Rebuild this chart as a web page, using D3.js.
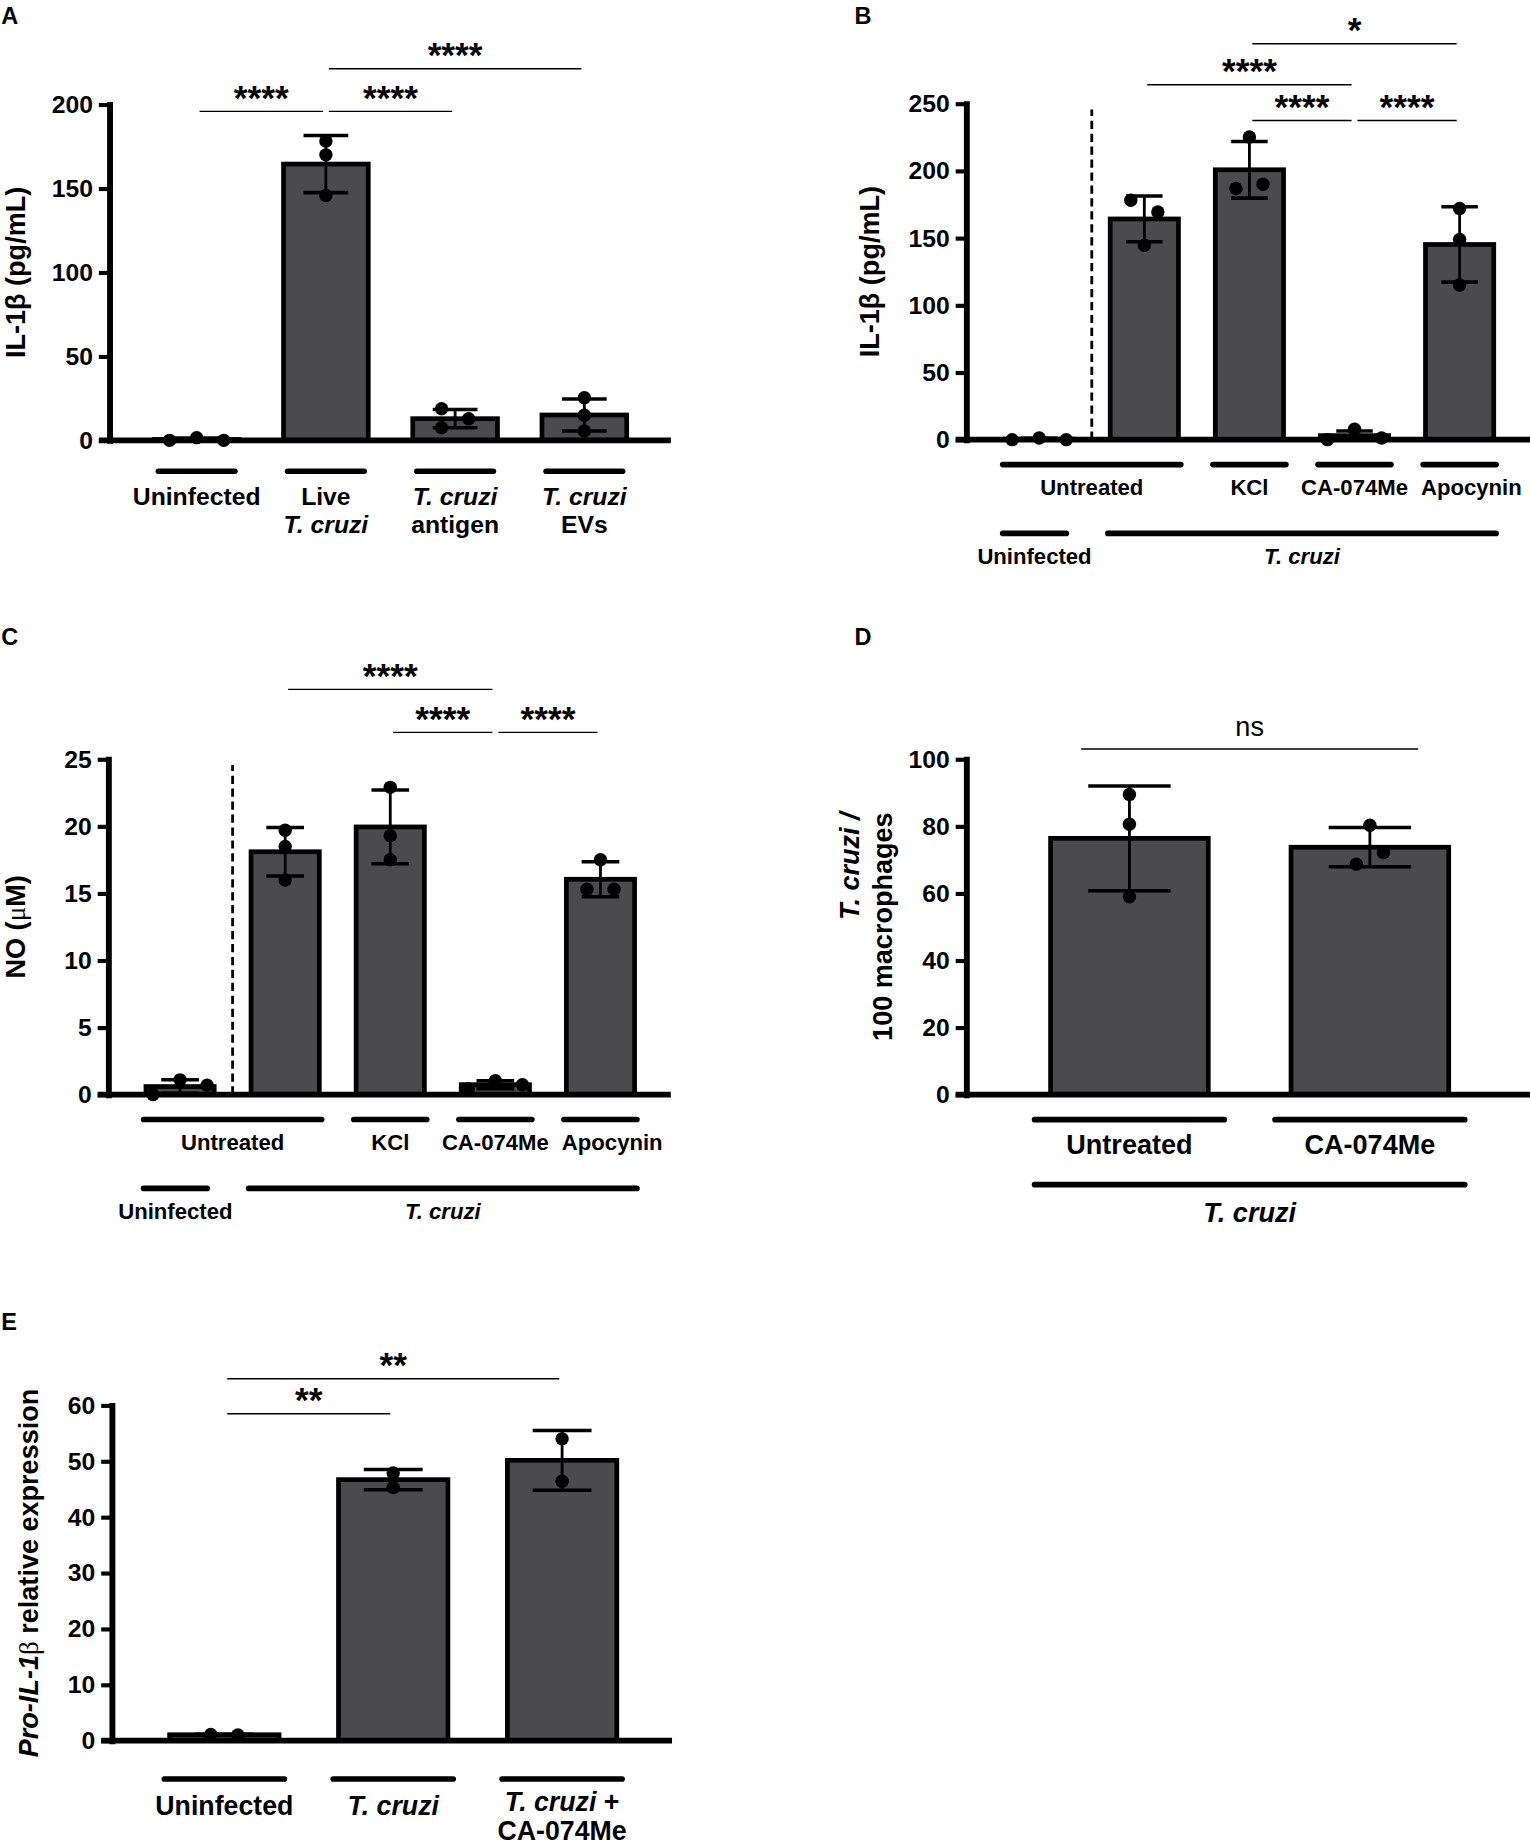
<!DOCTYPE html>
<html><head><meta charset="utf-8">
<script src="https://cdn.jsdelivr.net/npm/d3@7/dist/d3.min.js"></script>
<style>
html,body{margin:0;padding:0;background:#fff;}
svg{display:block;}
text{white-space:pre;}
</style></head><body><svg id="fig"></svg>
<script>
// ---------------- DATA ----------------
// Panel A: IL-1β (pg/mL)
const A_categories = ["Uninfected", "Live T. cruzi", "T. cruzi antigen", "T. cruzi EVs"];
const A_means = [0.5, 164.5, 12.9, 15.1];
const A_sd = [0.9, 17.0, 5.4, 9.5];
const A_points = [[0, 1.6, 0], [178.2, 170.0, 145.8], [18.8, 12.9, 7.5], [25.4, 14.9, 5.6]];
const A_ticks = [0, 50, 100, 150, 200];
const A_sig = [{from: 0, to: 1, level: 195.9, label: "****"}, {from: 1, to: 2, level: 195.9, label: "****"}, {from: 1, to: 3, level: 221.3, label: "****"}];

// Panel B: IL-1β (pg/mL), treatments
const B_categories = ["Uninfected", "Untreated", "KCl", "CA-074Me", "Apocynin"];
const B_means = [0.4, 164.2, 200.8, 3.0, 145.2];
const B_sd = [0.7, 17.0, 21.1, 3.4, 28.0];
const B_points = [[0, 1.2, 0], [178.1, 169.4, 144.6], [225.2, 186.8, 190.0], [0, 7.7, 1.2], [172.0, 149.0, 115.0]];
const B_ticks = [0, 50, 100, 150, 200, 250];
const B_sig = [{from: 2, to: 4, level: 294.6, label: "*"}, {from: 1, to: 3, level: 264.0, label: "****"}, {from: 2, to: 3, level: 237.4, label: "****"}, {from: 3, to: 4, level: 237.4, label: "****"}];

// Panel C: NO (µM)
const C_categories = ["Uninfected", "Untreated", "KCl", "CA-074Me", "Apocynin"];
const C_means = [0.6, 18.1, 19.95, 0.74, 16.05];
const C_sd = [0.5, 1.8, 2.75, 0.3, 1.3];
const C_points = [[0, 1.1, 0.7], [19.7, 18.5, 16.0], [22.9, 19.3, 17.5], [0.44, 1.04, 0.74], [17.5, 15.3, 15.3]];
const C_ticks = [0, 5, 10, 15, 20, 25];
const C_sig = [{from: 1, to: 3, level: 30.2, label: "****"}, {from: 2, to: 3, level: 27.0, label: "****"}, {from: 3, to: 4, level: 27.0, label: "****"}];

// Panel D: T. cruzi / 100 macrophages
const D_categories = ["Untreated", "CA-074Me"];
const D_means = [76.4, 73.75];
const D_sd = [15.6, 5.85];
const D_points = [[89.5, 80.6, 59.0], [80.3, 68.7, 72.2]];
const D_ticks = [0, 20, 40, 60, 80, 100];
const D_sig = [{from: 0, to: 1, level: 103.05, label: "ns"}];

// Panel E: Pro-IL-1β relative expression
const E_categories = ["Uninfected", "T. cruzi", "T. cruzi + CA-074Me"];
const E_means = [1.05, 46.7, 50.15];
const E_sd = [0.07, 1.8, 5.35];
const E_points = [[1.1, 1.0], [47.9, 45.3], [54.0, 46.4]];
const E_ticks = [0, 10, 20, 30, 40, 50, 60];
const E_sig = [{from: 0, to: 2, level: 64.76, label: "**"}, {from: 0, to: 1, level: 58.5, label: "**"}];

// Category label rows (text segments: [text, italic])
const A_rows = [[
  {from: 0, to: 0, lines: [[["Uninfected", 0]]]},
  {from: 1, to: 1, lines: [[["Live", 0]], [["T. cruzi", 1]]]},
  {from: 2, to: 2, lines: [[["T. cruzi", 1]], [["antigen", 0]]]},
  {from: 3, to: 3, lines: [[["T. cruzi", 1]], [["EVs", 0]]]}
]];
const B_rows = [[
  {from: 0, to: 1, lines: [[["Untreated", 0]]]},
  {from: 2, to: 2, lines: [[["KCl", 0]]]},
  {from: 3, to: 3, lines: [[["CA-074Me", 0]]]},
  {from: 4, to: 4, lines: [[["Apocynin", 0]]], dx: 10}
], [
  {from: 0, to: 0, lines: [[["Uninfected", 0]]], padR: 23},
  {from: 1, to: 4, lines: [[["T. cruzi", 1]]]}
]];
const C_rows = B_rows;
const D_rows = [[
  {from: 0, to: 0, lines: [[["Untreated", 0]]]},
  {from: 1, to: 1, lines: [[["CA-074Me", 0]]]}
], [
  {from: 0, to: 1, lines: [[["T. cruzi", 1]]]}
]];
const E_rows = [[
  {from: 0, to: 0, lines: [[["Uninfected", 0]]]},
  {from: 1, to: 1, lines: [[["T. cruzi", 1]]]},
  {from: 2, to: 2, lines: [[["T. cruzi", 1], [" +", 0]], [["CA-074Me", 0]]], dy: -2.8}
]];

// ---------------- DRAWING ----------------
const FONT = '"Liberation Sans", Arial, Helvetica, sans-serif';
const SERIF = '"Liberation Serif", "DejaVu Serif", serif';
const BAR_FILL = "#4b4a4c";
const R = 5.7, S = 11.5;

const svg = d3.select("#fig").attr("width", 1530).attr("height", 1846)
  .attr("viewBox", "0 0 1300 1568").attr("font-family", FONT);
svg.append("rect").attr("width", 1300).attr("height", 1568).attr("fill", "#fff");

function pointOffsets(vals, y) {
  const n = vals.length, off = new Array(n).fill(0);
  const idx = d3.range(n).sort((a, b) => vals[a] - vals[b]);
  const clusters = []; let cur = [idx[0]];
  for (let k = 1; k < n; k++) {
    if (Math.abs(y(vals[idx[k]]) - y(vals[idx[k - 1]])) < 11) cur.push(idx[k]);
    else { clusters.push(cur); cur = [idx[k]]; }
  }
  clusters.push(cur);
  clusters.forEach(c => {
    c.sort((a, b) => a - b);
    if (c.length === 2) { off[c[0]] = -S; off[c[1]] = S; }
    else if (c.length === 3) {
      const ys = c.map(i => y(vals[i]));
      const span = d3.max(ys) - d3.min(ys);
      if (span < 14) { off[c[0]] = -2 * S; off[c[1]] = 0; off[c[2]] = 2 * S; }
      else { off[c[0]] = -S; off[c[1]] = S; off[c[2]] = -S; }
    }
  });
  return off;
}

function richText(g, x, yb, segs, size, anchor) {
  const t = g.append("text").attr("x", x).attr("y", yb).attr("text-anchor", anchor || "middle")
    .attr("font-size", size).attr("font-weight", "bold").attr("fill", "#000");
  segs.forEach(s => t.append("tspan").attr("font-style", s[1] ? "italic" : "normal").text(s[0]));
  return t;
}

function drawPanel(cfg) {
  const g = svg.append("g");
  const cats = cfg.categories;
  const x = d3.scalePoint().domain(cats).range(cfg.xRange).padding(0.5);
  const y = d3.scaleLinear().domain([0, cfg.yMax]).range(cfg.yRange);

  // dashed separator
  if (cfg.dashed) {
    const xd = (x(cats[0]) + x(cats[1])) / 2;
    g.append("line").attr("x1", xd).attr("x2", xd).attr("y1", y(0)).attr("y2", y(cfg.yMax) + 5)
      .attr("stroke", "#000").attr("stroke-width", 2.4).attr("stroke-dasharray", "7,4");
  }
  // bars
  g.selectAll("rect.bar").data(cfg.means).join("rect").attr("class", "bar")
    .attr("x", (d, i) => x(cats[i]) - cfg.barW / 2).attr("width", cfg.barW)
    .attr("y", d => y(d)).attr("height", d => y(0) - y(d))
    .attr("fill", BAR_FILL).attr("stroke", "#000").attr("stroke-width", 4);
  // x axis line
  g.append("line").attr("x1", cfg.axisX - 9).attr("x2", cfg.xAxisEnd).attr("y1", y(0)).attr("y2", y(0))
    .attr("stroke", "#000").attr("stroke-width", 5);
  // error bars
  cfg.means.forEach((m, i) => {
    const cx = x(cats[i]);
    const hi = m + cfg.sd[i], lo = Math.max(0, m - cfg.sd[i]);
    g.append("line").attr("x1", cx).attr("x2", cx).attr("y1", y(lo)).attr("y2", y(hi))
      .attr("stroke", "#000").attr("stroke-width", 2.4);
    [hi, lo].forEach(v => {
      if (v <= 0) return;
      g.append("line").attr("x1", cx - cfg.capW / 2).attr("x2", cx + cfg.capW / 2)
        .attr("y1", y(v)).attr("y2", y(v)).attr("stroke", "#000").attr("stroke-width", 3);
    });
  });
  // points
  cfg.points.forEach((pts, i) => {
    const off = pointOffsets(pts, y);
    g.selectAll(null).data(pts).join("circle")
      .attr("cx", (d, k) => x(cats[i]) + off[k]).attr("cy", d => y(d)).attr("r", R).attr("fill", "#000");
  });
  // y axis
  const ax = g.append("g").attr("transform", `translate(${cfg.axisX},0)`)
    .call(d3.axisLeft(y).tickValues(cfg.ticks).tickSize(9).tickPadding(5).tickSizeOuter(0).tickFormat(d3.format("d")));
  ax.attr("font-family", FONT).attr("font-size", 21).attr("font-weight", "bold");
  ax.select(".domain").attr("stroke", "#000").attr("stroke-width", 5).attr("stroke-linecap", "square");
  ax.selectAll(".tick line").attr("stroke", "#000").attr("stroke-width", 3.5);
  ax.selectAll(".tick text").attr("fill", "#000");

  // category rows
  cfg.rows.forEach((row, ri) => {
    const lay = cfg.rowLayout[ri];
    row.forEach(gr => {
      const x1 = x(cats[gr.from]) - (gr.padL || cfg.half), x2 = x(cats[gr.to]) + (gr.padR || cfg.half);
      g.append("line").attr("x1", x1).attr("x2", x2).attr("y1", lay.line).attr("y2", lay.line)
        .attr("stroke", "#000").attr("stroke-width", 4.8).attr("stroke-linecap", "round");
      gr.lines.forEach((ln, li) => richText(g, (x1 + x2) / 2 + (gr.dx || 0),
        lay.base + (gr.dy || 0) + li * cfg.lineGap, ln, cfg.labelSize));
    });
  });

  // significance brackets
  cfg.sig.forEach(s => {
    const yy = y(s.level);
    const x1 = x(cats[s.from]) - cfg.sigExt, x2 = x(cats[s.to]) + cfg.sigExt;
    g.append("line").attr("x1", x1).attr("x2", x2).attr("y1", yy).attr("y2", yy)
      .attr("stroke", "#000").attr("stroke-width", 1.2);
    const t = g.append("text").attr("x", (x1 + x2) / 2).attr("text-anchor", "middle").attr("fill", "#000").text(s.label);
    if (s.label === "ns") t.attr("y", yy - 10.7).attr("font-size", 23).attr("font-weight", "normal");
    else t.attr("y", yy - 1.5).attr("font-size", 30).attr("font-weight", "bold");
  });

  // panel letter
  g.append("text").attr("x", cfg.letterPos[0]).attr("y", cfg.letterPos[1]).attr("font-size", 20)
    .attr("font-weight", "bold").attr("fill", "#000").text(cfg.letter);
  return {g, x, y};
}

const pA = drawPanel({
  letter: "A", letterPos: [1, 20.5],
  categories: A_categories, means: A_means, sd: A_sd, points: A_points, ticks: A_ticks, sig: A_sig, rows: A_rows,
  yMax: 200, yRange: [373.9, 88.5], xRange: [112.2, 551.4], axisX: 93, xAxisEnd: 570,
  barW: 72, capW: 38, half: 32.5, labelSize: 21, lineGap: 24.1, sigExt: -2.5,
  rowLayout: [{line: 400.2, base: 428.5}]
});
const pB = drawPanel({
  letter: "B", letterPos: [726, 20.5],
  categories: B_categories, means: B_means, sd: B_sd, points: B_points, ticks: B_ticks, sig: B_sig, rows: B_rows,
  yMax: 250, yRange: [373.3, 87.8], xRange: [838.35, 1284.85], axisX: 821, xAxisEnd: 1300, dashed: true,
  barW: 58, capW: 31, half: 31, labelSize: 18.8, lineGap: 24, sigExt: -2.5,
  rowLayout: [{line: 394.5, base: 420}, {line: 453, base: 479}]
});
const pC = drawPanel({
  letter: "C", letterPos: [1, 548],
  categories: C_categories, means: C_means, sd: C_sd, points: C_points, ticks: C_ticks, sig: C_sig, rows: C_rows,
  yMax: 25, yRange: [929.8, 644.8], xRange: [108.35, 554.85], axisX: 92, xAxisEnd: 570, dashed: true,
  barW: 58, capW: 32, half: 31, labelSize: 18.8, lineGap: 24, sigExt: -2.5,
  rowLayout: [{line: 951, base: 976.5}, {line: 1009.5, base: 1035.5}]
});
const pD = drawPanel({
  letter: "D", letterPos: [726, 548],
  categories: D_categories, means: D_means, sd: D_sd, points: D_points, ticks: D_ticks, sig: D_sig, rows: D_rows,
  yMax: 100, yRange: [929.8, 644.8], xRange: [857.5, 1266.1], axisX: 821, xAxisEnd: 1300,
  barW: 134, capW: 70, half: 80.6, labelSize: 23, lineGap: 24, sigExt: 41,
  rowLayout: [{line: 951.1, base: 980}, {line: 1006.3, base: 1038}]
});
const pE = drawPanel({
  letter: "E", letterPos: [1, 1130],
  categories: E_categories, means: E_means, sd: E_sd, points: E_points, ticks: E_ticks, sig: E_sig, rows: E_rows,
  yMax: 60, yRange: [1478.7, 1193.8], xRange: [118.85, 549.35], axisX: 95, xAxisEnd: 571,
  barW: 93, capW: 50, half: 51, labelSize: 22.7, lineGap: 24, sigExt: -2.5,
  rowLayout: [{line: 1511.3, base: 1541.6}]
});

// ---------------- AXIS TITLES ----------------
function yTitle(px, py, segs, anchor) {
  const t = svg.append("text").attr("transform", `translate(${px},${py}) rotate(-90)`)
    .attr("text-anchor", anchor || "middle").attr("font-size", 23).attr("font-weight", "bold").attr("fill", "#000");
  segs.forEach(s => {
    const ts = t.append("tspan").text(s.t);
    if (s.i) ts.attr("font-style", "italic");
    if (s.serif) ts.attr("font-family", SERIF).attr("font-weight", "normal");
  });
}
yTitle(21.5, (pA.y(0) + pA.y(200)) / 2, [{t: "IL-1β (pg/mL)"}]);
yTitle(747, (pB.y(0) + pB.y(250)) / 2, [{t: "IL-1β (pg/mL)"}]);
yTitle(21.5, (pC.y(0) + pC.y(25)) / 2, [{t: "NO ("}, {t: "μ", serif: true}, {t: "M)"}]);
yTitle(730, 690, [{t: "T. cruzi /", i: true}], "end");
yTitle(758, 690, [{t: "100 macrophages"}], "end");
yTitle(32, (pE.y(0) + pE.y(60)) / 2, [{t: "Pro-IL-1", i: true}, {t: "β", serif: true}, {t: " relative expression"}]);
</script></body></html>
